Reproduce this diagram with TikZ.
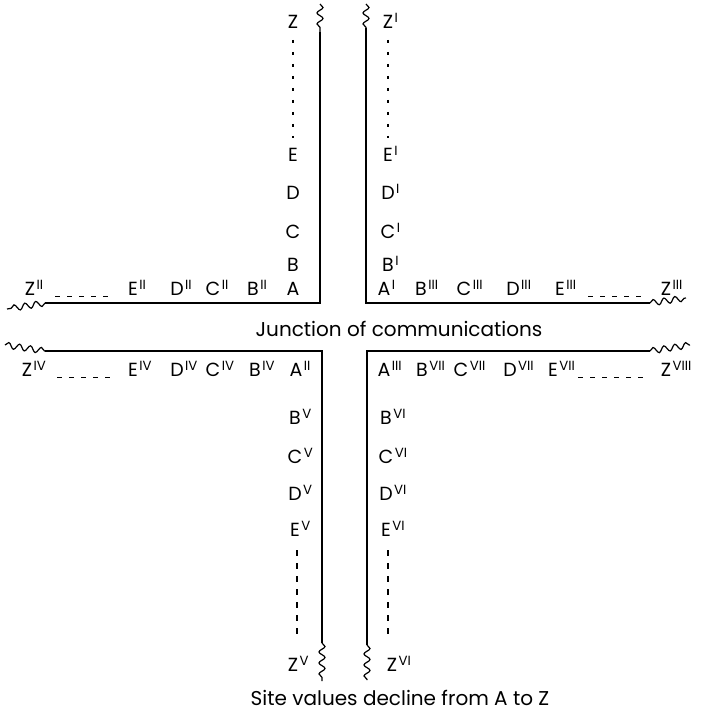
\documentclass[tikz,border=0pt]{standalone}
\usepackage{fontspec}
\setmainfont{Poppins}
\usetikzlibrary{decorations.pathmorphing}
\newcommand\sitelab[2]{#1\rlap{\smash{\kern1.5pt\textsuperscript{#2}}}}
\begin{document}
\begin{tikzpicture}[x=1pt,y=-1pt,
  road/.style={line width=1.4pt},
  wig/.style={line width=1.2pt, decorate, decoration={snake, segment length=11pt, amplitude=3pt}},
  lab/.style={font=\fontsize{19}{22}\selectfont, inner sep=0pt, anchor=center},
  captxt/.style={font=\fontsize{20}{24}\selectfont, inner sep=0pt},
  vdots/.style={line width=1.5pt, dash pattern=on 3pt off 9pt},
  vdash/.style={line width=1.3pt, dash pattern=on 6pt off 7pt},
  hdash/.style={line width=1pt, dash pattern=on 5pt off 7pt}]
\useasboundingbox (0,0) rectangle (702,719);
% ---------- roads ----------
\coordinate (tlw) at (320,4);  \coordinate (tlt) at (320,32);
\coordinate (tlc) at (320,303); \coordinate (tll) at (45,303); \coordinate (tlx) at (7,309);
\draw[wig] (tlw) -- (tlt);
\draw[road] (tlt) -- (tlc) -- (tll);
\draw[wig] (tll) -- (tlx);
\coordinate (trw) at (366,4);  \coordinate (trt) at (366,28);
\coordinate (trc) at (366,303); \coordinate (trr) at (650,303); \coordinate (trx) at (686,298);
\draw[wig] (trw) -- (trt);
\draw[road] (trt) -- (trc) -- (trr);
\draw[wig] (trr) -- (trx);
\coordinate (blx) at (5,345); \coordinate (bll) at (45,351);
\coordinate (blc) at (322,351); \coordinate (blb) at (322,643); \coordinate (blw) at (322,681);
\draw[wig] (blx) -- (bll);
\draw[road] (bll) -- (blc) -- (blb);
\draw[wig] (blb) -- (blw);
\coordinate (brx) at (690,345); \coordinate (brr) at (650,351);
\coordinate (brc) at (367,351); \coordinate (brb) at (367,645); \coordinate (brw) at (367,680);
\draw[wig] (brr) -- (brx);
\draw[road] (brr) -- (brc) -- (brb);
\draw[wig] (brb) -- (brw);
% ---------- top-left ----------
\node[lab] (z0) at (293,22) {Z};
\node[lab] (e0) at (293,155) {E};
\node[lab] (d0) at (293,193) {D};
\node[lab] (c0) at (293,232) {C};
\node[lab] (b0) at (293,265) {B};
\node[lab] (a0) at (293,289) {A};
\draw[vdots] (293,40) -- (293,138);
\node[lab] (z2) at (30,289) {\sitelab{Z}{II}};
\node[lab] (e2) at (133,289) {\sitelab{E}{II}};
\node[lab] (d2) at (177,289) {\sitelab{D}{II}};
\node[lab] (c2) at (213,289) {\sitelab{C}{II}};
\node[lab] (b2) at (253,289) {\sitelab{B}{II}};
\draw[hdash] (55,296) -- (112,296);
% ---------- top-right ----------
\node[lab] (z1) at (388,22) {\sitelab{Z}{I}};
\node[lab] (e1) at (388,155) {\sitelab{E}{I}};
\node[lab] (d1) at (388,193) {\sitelab{D}{I}};
\node[lab] (c1) at (388,232) {\sitelab{C}{I}};
\node[lab] (b1) at (388,265) {\sitelab{B}{I}};
\node[lab] (a1) at (384,289) {\sitelab{A}{I}};
\draw[vdots] (388,40) -- (388,138);
\node[lab] (b3) at (421,289) {\sitelab{B}{III}};
\node[lab] (c3) at (464,289) {\sitelab{C}{III}};
\node[lab] (d3) at (513,289) {\sitelab{D}{III}};
\node[lab] (e3) at (560,289) {\sitelab{E}{III}};
\node[lab] (z3) at (666,289) {\sitelab{Z}{III}};
\draw[hdash] (588,296) -- (645,296);
% ---------- junction ----------
\node[captxt] (junc) at (399,329) {Junction of communications};
% ---------- bottom-left ----------
\node[lab] (z4) at (27,370) {\sitelab{Z}{IV}};
\node[lab] (e4) at (133,370) {\sitelab{E}{IV}};
\node[lab] (d4) at (177,370) {\sitelab{D}{IV}};
\node[lab] (c4) at (213,370) {\sitelab{C}{IV}};
\node[lab] (b4) at (255,370) {\sitelab{B}{IV}};
\node[lab] (a2) at (296,370) {\sitelab{A}{II}};
\draw[hdash] (57,377) -- (114,377);
\node[lab] (b5) at (295,418) {\sitelab{B}{V}};
\node[lab] (c5) at (295,457) {\sitelab{C}{V}};
\node[lab] (d5) at (295,494) {\sitelab{D}{V}};
\node[lab] (e5) at (295,530) {\sitelab{E}{V}};
\node[lab] (z5) at (293,665) {\sitelab{Z}{V}};
\draw[vdash] (297,550) -- (297,640);
% ---------- bottom-right ----------
\node[lab] (a3) at (384,370) {\sitelab{A}{III}};
\node[lab] (b7) at (422,370) {\sitelab{B}{VII}};
\node[lab] (c7) at (461,370) {\sitelab{C}{VII}};
\node[lab] (d7) at (510,370) {\sitelab{D}{VII}};
\node[lab] (e7) at (553,370) {\sitelab{E}{VII}};
\node[lab] (z8) at (666,370) {\sitelab{Z}{VIII}};
\draw[hdash] (578,377) -- (645,377);
\node[lab] (b6) at (386,418) {\sitelab{B}{VI}};
\node[lab] (c6) at (386,457) {\sitelab{C}{VI}};
\node[lab] (d6) at (386,494) {\sitelab{D}{VI}};
\node[lab] (e6) at (386,530) {\sitelab{E}{VI}};
\node[lab] (z6) at (392,665) {\sitelab{Z}{VI}};
\draw[vdash] (388,550) -- (388,640);
% ---------- caption ----------
\node[captxt] (capt) at (400,698) {Site values decline from A to Z};
\end{tikzpicture}
\end{document}
